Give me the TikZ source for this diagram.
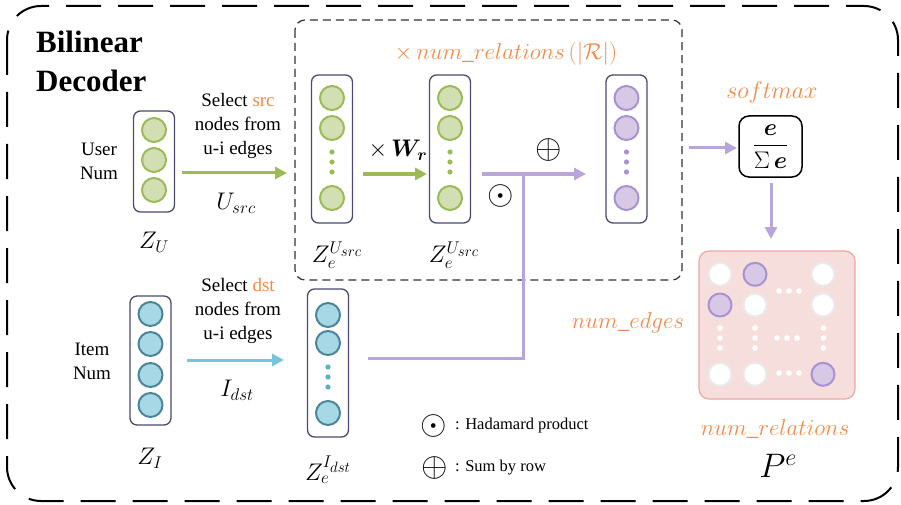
\RequirePackage{fix-cm}
\documentclass[tikz,border=0pt]{standalone}
\usepackage{amsmath,amssymb,bm}
\usepackage{fontspec}
\setmainfont{Liberation Serif}
\usetikzlibrary{arrows.meta}

% larger script sizes for the big labels
\DeclareMathSizes{23}{23}{17}{15}
\DeclareMathSizes{24}{24}{17}{15}
\DeclareMathSizes{34}{34}{24}{18}

\definecolor{gfill}{HTML}{D2DFB2}
\definecolor{gline}{HTML}{9BBB59}
\definecolor{bfill}{HTML}{A6D9E5}
\definecolor{bline}{HTML}{4D8598}
\definecolor{bdot}{HTML}{5AB0C4}
\definecolor{barrow}{HTML}{74C6D8}
\definecolor{pfill}{HTML}{D7C9E5}
\definecolor{pline}{HTML}{A892D2}
\definecolor{parrow}{HTML}{B8A6DA}
\definecolor{boxc}{HTML}{4B4A72}
\definecolor{orng}{HTML}{F28A48}
\definecolor{pinkfill}{HTML}{F6DEDC}
\definecolor{pinkline}{HTML}{EBA9A5}
\definecolor{wline}{HTML}{EAEAEA}

\newcommand{\fs}[1]{\fontsize{#1}{1.25\dimexpr #1pt\relax}\selectfont}

\begin{document}
\begin{tikzpicture}[x=1pt,y=-1pt,
  outerframe/.style={line width=2pt,dash pattern=on 35pt off 17pt,rounded corners=34pt},
  innerframe/.style={draw=black!80,line width=1.2pt,dash pattern=on 8pt off 5pt,rounded corners=10pt},
  vecbox/.style={draw=boxc,line width=1.3pt,rounded corners=7pt,minimum width=41pt,inner sep=0pt},
  gcirc/.style={circle,draw=gline,fill=gfill,line width=2pt,minimum size=24pt,inner sep=0pt},
  bcirc/.style={circle,draw=bline,fill=bfill,line width=2pt,minimum size=24pt,inner sep=0pt},
  pcirc/.style={circle,draw=pline,fill=pfill,line width=2pt,minimum size=24pt,inner sep=0pt},
  wcirc/.style={circle,draw=wline,fill=white,line width=2pt,minimum size=23pt,inner sep=0pt},
  mpcirc/.style={circle,draw=pline,fill=pfill,line width=2pt,minimum size=23pt,inner sep=0pt},
  tip/.style={-{Triangle[length=12pt,width=12pt]}},
  garrow/.style={tip,draw=gline,line width=3pt},
  barrowst/.style={tip,draw=barrow,line width=3pt},
  parrowst/.style={tip,draw=parrow,line width=3pt},
  plinest/.style={draw=parrow,line width=3pt},
  txt/.style={font=\fs{19},align=center,inner sep=0pt},
  mlabel/.style={font=\fs{24},inner sep=0pt},
  olabel/.style={font=\fs{23},text=orng,inner sep=0pt},
  symb/.style={font=\fs{34},inner sep=0pt},
  legend/.style={font=\fs{16.5},anchor=west,inner sep=0pt}
]
\useasboundingbox (0,0) rectangle (901,505);

% frames
\draw[outerframe] (7,6) rectangle (898,501);
\draw[innerframe] (295,20) rectangle (682,280);

% title
\node[font=\fontsize{31}{39}\selectfont\bfseries,align=left,anchor=west,inner sep=0pt] (title) at (36,61) {Bilinear\\Decoder};

% user embeddings Z_U
\node[txt] (usernum) at (99,161) {User\\Num};
\node[vecbox,minimum height=101pt] (zu) at (154,161.5) {};
\foreach \y [count=\i] in {130,160,190} \node[gcirc] (zu\i) at (154,\y) {};
\node[mlabel] (zul) at (154,242) {$Z_U$};

% item embeddings Z_I
\node[txt] (itemnum) at (92,361) {Item\\Num};
\node[vecbox,minimum height=129pt] (zi) at (150.5,360.5) {};
\foreach \y [count=\i] in {314,344,375,405} \node[bcirc] (zi\i) at (150.5,\y) {};
\node[mlabel] (zil) at (150,458) {$Z_I$};

% selection of source nodes
\node[txt] (selsrc) at (238,126) {Select \textcolor{orng}{src}\\nodes from\\u-i edges};
\coordinate (ua) at (182,173);
\coordinate (ub) at (287,173);
\draw[garrow] (ua) -- (ub);
\node[mlabel] (usrc) at (236,203) {$U_{src}$};

% selection of destination nodes
\node[txt] (seldst) at (238,311) {Select \textcolor{orng}{dst}\\nodes from\\u-i edges};
\coordinate (ia) at (187,360);
\coordinate (ib) at (284,360);
\draw[barrowst] (ia) -- (ib);
\node[mlabel] (idst) at (237,390) {$I_{dst}$};

% Z_e^{U_src} (before W_r)
\node[vecbox,minimum height=148pt] (ze1) at (332,149) {};
\foreach \y [count=\i] in {98,128,198} \node[gcirc] (ze1\i) at (332,\y) {};
\foreach \y in {152,162,172} \fill[gline] (332,\y) circle (2.6);
\node[mlabel] (ze1l) at (337,255) {$Z_e^{U_{src}}$};

% multiplication by W_r
\coordinate (wa) at (363,174);
\coordinate (wb) at (427,174);
\draw[garrow] (wa) -- (wb);
\node[mlabel] (wr) at (398,150) {$\times\,\bm{W_r}$};

% Z_e^{U_src} (after W_r)
\node[vecbox,minimum height=148pt] (ze2) at (450,149) {};
\foreach \y [count=\i] in {98,128,198} \node[gcirc] (ze2\i) at (450,\y) {};
\foreach \y in {152,162,172} \fill[gline] (450,\y) circle (2.6);
\node[mlabel] (ze2l) at (454,255) {$Z_e^{U_{src}}$};

% Z_e^{I_dst}
\node[vecbox,minimum height=148pt] (zd) at (328,363) {};
\foreach \y [count=\i] in {315,343,413} \node[bcirc] (zd\i) at (328,\y) {};
\foreach \y in {367,377,387} \fill[bdot] (328,\y) circle (2.6);
\node[mlabel] (zdl) at (328,470) {$Z_e^{I_{dst}}$};

% per-relation scores
\node[vecbox,minimum height=148pt] (zr) at (626.5,149) {};
\foreach \y [count=\i] in {98,128,198} \node[pcirc] (zr\i) at (626.5,\y) {};
\foreach \y in {152,162,172} \fill[pline] (626.5,\y) circle (2.6);

% Hadamard product and row sum
\coordinate (pa) at (482,174);
\coordinate (pj) at (523,174);
\coordinate (pb) at (586,174);
\coordinate (pc) at (523,358);
\coordinate (pd) at (368,358);
\draw[plinest] (pa) -- (pj);
\draw[parrowst] (pj) -- (pb);
\draw[plinest,line join=miter] (pd) -- (pc) -- (pj);
\node[symb] (had) at (501,196) {$\odot$};
\node[symb] (sum) at (549,150) {$\oplus$};

\node[olabel] (numrel) at (506,54) {$\times\,num\_relations\,(|\mathcal{R}|)$};

% softmax
\node[olabel,font=\fs{24}] (smlabel) at (772,93) {$softmax$};
\node[draw,line width=1.5pt,rounded corners=10pt,minimum width=63pt,minimum height=61pt,inner sep=0pt,font=\fs{24}] (sm) at (770.5,146.5) {$\dfrac{\bm{e}}{\Sigma\,\bm{e}}$};
\coordinate (sa) at (689,148);
\coordinate (sb) at (737,148);
\draw[parrowst] (sa) -- (sb);
\coordinate (sc) at (771,183);
\coordinate (sd) at (771,239);
\draw[parrowst] (sc) -- (sd);

% output matrix P^e
\node[draw=pinkline,fill=pinkfill,line width=1.2pt,rounded corners=10pt,minimum width=156pt,minimum height=148pt,inner sep=0pt] (pe) at (777,325) {};
\node[wcirc]  (m11) at (720,274.3) {};
\node[mpcirc] (m12) at (755,274.3) {};
\node[wcirc]  (m13) at (823,274.3) {};
\node[mpcirc] (m21) at (720,305) {};
\node[wcirc]  (m22) at (755,305) {};
\node[wcirc]  (m23) at (823,305) {};
\node[wcirc]  (m31) at (720,374.3) {};
\node[wcirc]  (m32) at (755,374.3) {};
\node[mpcirc] (m33) at (823,374.3) {};
\foreach \x in {779,789,799} {
  \fill[white] (\x,291) circle (2.8);
  \fill[white] (\x,373) circle (2.8);
}
\foreach \x in {777,787,797} \fill[white] (\x,338) circle (2.8);
\foreach \y in {328,338,348} {
  \fill[white] (720,\y) circle (2.8);
  \fill[white] (755,\y) circle (2.8);
  \fill[white] (823.5,\y) circle (2.8);
}
\node[olabel] (numedges) at (628,323) {$num\_edges$};
\node[olabel] (numrel2) at (775,429) {$num\_relations$};
\node[font=\fs{34},inner sep=0pt] (pel) at (778,466) {$P^e$};

% legend
\node[symb] (lg1) at (434,426) {$\odot$};
\node[legend] (lg1t) at (455,426) {: Hadamard product};
\node[symb] (lg2) at (435,468) {$\oplus$};
\node[legend] (lg2t) at (455,468) {: Sum by row};
\end{tikzpicture}
\end{document}
